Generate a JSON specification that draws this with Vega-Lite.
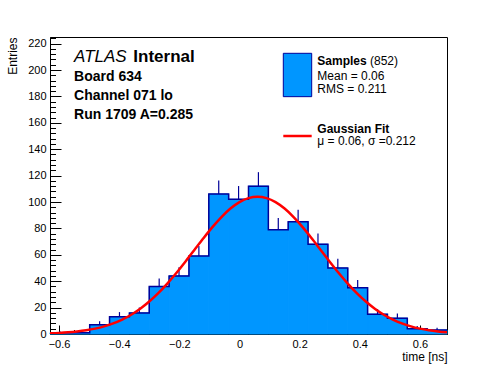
{
  "$schema": "https://vega.github.io/schema/vega-lite/v6.json",
  "width": 397,
  "height": 297,
  "autosize": {"type": "none"},
  "padding": {"left": 50, "top": 37, "right": 49, "bottom": 38},
  "background": "white",
  "config": {
    "view": {"stroke": "black", "strokeWidth": 1},
    "font": "Liberation Sans",
    "axis": {"labelFont": "Liberation Sans", "titleFont": "Liberation Sans", "labelColor": "black", "titleColor": "black", "domainColor": "black", "tickColor": "black", "grid": false, "zindex": 1}
  },
  "datasets": {
    "hist": [
      {"lo": -0.630, "hi": -0.564, "t": -0.597, "n": 1, "up": 2.0},
      {"lo": -0.564, "hi": -0.498, "t": -0.531, "n": 1, "up": 2.0},
      {"lo": -0.498, "hi": -0.432, "t": -0.465, "n": 7, "up": 9.65},
      {"lo": -0.432, "hi": -0.366, "t": -0.399, "n": 13, "up": 16.6},
      {"lo": -0.366, "hi": -0.300, "t": -0.333, "n": 16, "up": 20.0},
      {"lo": -0.300, "hi": -0.234, "t": -0.267, "n": 36, "up": 42.0},
      {"lo": -0.234, "hi": -0.168, "t": -0.201, "n": 44, "up": 50.6},
      {"lo": -0.168, "hi": -0.102, "t": -0.135, "n": 59, "up": 66.7},
      {"lo": -0.102, "hi": -0.036, "t": -0.069, "n": 106, "up": 116.3},
      {"lo": -0.036, "hi": 0.030, "t": -0.003, "n": 102, "up": 112.1},
      {"lo": 0.030, "hi": 0.096, "t": 0.063, "n": 112, "up": 122.6},
      {"lo": 0.096, "hi": 0.162, "t": 0.129, "n": 79, "up": 87.9},
      {"lo": 0.162, "hi": 0.228, "t": 0.195, "n": 85, "up": 94.2},
      {"lo": 0.228, "hi": 0.294, "t": 0.261, "n": 68, "up": 76.2},
      {"lo": 0.294, "hi": 0.360, "t": 0.327, "n": 50, "up": 57.1},
      {"lo": 0.360, "hi": 0.426, "t": 0.393, "n": 35, "up": 40.9},
      {"lo": 0.426, "hi": 0.492, "t": 0.459, "n": 15, "up": 18.9},
      {"lo": 0.492, "hi": 0.558, "t": 0.525, "n": 12, "up": 15.5},
      {"lo": 0.558, "hi": 0.624, "t": 0.591, "n": 4, "up": 6.0},
      {"lo": 0.624, "hi": 0.690, "t": 0.657, "n": 3, "up": 4.7}
    ],
    "fit": [
      {"t": -0.63, "f": 0.52}, {"t": -0.60, "f": 0.82}, {"t": -0.57, "f": 1.26}, {"t": -0.54, "f": 1.90},
      {"t": -0.51, "f": 2.80}, {"t": -0.48, "f": 4.06}, {"t": -0.45, "f": 5.76}, {"t": -0.42, "f": 8.01},
      {"t": -0.39, "f": 10.93}, {"t": -0.36, "f": 14.61}, {"t": -0.33, "f": 19.15}, {"t": -0.30, "f": 24.60},
      {"t": -0.27, "f": 30.97}, {"t": -0.24, "f": 38.21}, {"t": -0.21, "f": 46.22}, {"t": -0.18, "f": 54.80},
      {"t": -0.15, "f": 63.68}, {"t": -0.12, "f": 72.52}, {"t": -0.09, "f": 80.97}, {"t": -0.06, "f": 88.60},
      {"t": -0.03, "f": 95.04}, {"t": 0.00, "f": 99.92}, {"t": 0.03, "f": 102.96}, {"t": 0.06, "f": 104.0},
      {"t": 0.09, "f": 102.96}, {"t": 0.12, "f": 99.92}, {"t": 0.15, "f": 95.04}, {"t": 0.18, "f": 88.60},
      {"t": 0.21, "f": 80.97}, {"t": 0.24, "f": 72.52}, {"t": 0.27, "f": 63.68}, {"t": 0.30, "f": 54.80},
      {"t": 0.33, "f": 46.22}, {"t": 0.36, "f": 38.21}, {"t": 0.39, "f": 30.97}, {"t": 0.42, "f": 24.60},
      {"t": 0.45, "f": 19.15}, {"t": 0.48, "f": 14.61}, {"t": 0.51, "f": 10.93}, {"t": 0.54, "f": 8.01},
      {"t": 0.57, "f": 5.76}, {"t": 0.60, "f": 4.06}, {"t": 0.63, "f": 2.80}, {"t": 0.66, "f": 1.90},
      {"t": 0.69, "f": 1.26}
    ],
    "atlas": [{"t": -0.550, "e": 205.8, "label": "ATLAS"}],
    "internal": [{"t": -0.353, "e": 205.8, "label": "Internal"}],
    "info": [
      {"t": -0.550, "e": 191.7, "label": "Board 634"},
      {"t": -0.550, "e": 177.3, "label": "Channel 071 lo"},
      {"t": -0.550, "e": 163.1, "label": "Run 1709 A=0.285"}
    ],
    "legendHead": [
      {"t": 0.2588, "e": 203.8, "label": "Samples"},
      {"t": 0.2588, "e": 152.6, "label": "Gaussian Fit"}
    ],
    "legendBody": [
      {"t": 0.434, "e": 203.8, "label": "(852)"},
      {"t": 0.2588, "e": 192.4, "label": "Mean = 0.06"},
      {"t": 0.2588, "e": 182.3, "label": "RMS = 0.211"},
      {"t": 0.2588, "e": 142.9, "label": "μ = 0.06, σ =0.212"}
    ],
    "legendBox": [{"x1": 0.1457, "x2": 0.2401, "y1": 212.65, "y2": 179.8}],
    "legendLine": [{"x1": 0.1457, "x2": 0.2401, "y": 150.0}]
  },
  "resolve": {"axis": {"x": "independent", "y": "independent"}},
  "layer": [
    {
      "data": {"name": "hist"},
      "mark": {"type": "rect", "fill": "#0096ff", "stroke": "#0096ff", "strokeWidth": 1},
      "encoding": {
        "x": {"field": "lo", "type": "quantitative",
          "scale": {"domain": [-0.63, 0.69], "nice": false, "zero": false},
          "axis": {"orient": "bottom", "values": [-0.6, -0.4, -0.2, 0, 0.2, 0.4, 0.6], "format": ".1~f",
            "tickSize": -9, "labelPadding": 13, "labelFontSize": 11, "domainWidth": 1,
            "title": "time [ns]", "titleFontSize": 12, "titleFontWeight": "normal", "titleAnchor": "end",
            "titleX": 397, "titleY": 26, "titleAlign": "right", "titleBaseline": "alphabetic"}},
        "x2": {"field": "hi"},
        "y": {"field": "n", "type": "quantitative",
          "scale": {"domain": [0, 225], "nice": false},
          "axis": {"orient": "left", "values": [0, 20, 40, 60, 80, 100, 120, 140, 160, 180, 200, 220],
            "tickSize": -11, "labelPadding": 15, "labelFontSize": 11,
            "title": "Entries", "titleFontSize": 12, "titleFontWeight": "normal",
            "titleX": -38, "titleY": 0, "titleAngle": -90, "titleAlign": "right", "titleBaseline": "middle"}},
        "y2": {"datum": 0}
      }
    },
    {
      "data": {"name": "hist"},
      "transform": [{"fold": ["lo", "hi"], "as": ["edge", "x"]}],
      "mark": {"type": "line", "color": "#000099", "strokeWidth": 1.5, "interpolate": "linear"},
      "encoding": {
        "x": {"field": "x", "type": "quantitative",
          "axis": {"orient": "bottom", "values": [-0.6, -0.55, -0.5, -0.45, -0.35, -0.3, -0.25, -0.15, -0.1, -0.05, 0.05, 0.1, 0.15, 0.25, 0.3, 0.35, 0.45, 0.5, 0.55, 0.65],
            "tickSize": -4.5, "labels": false, "domain": false, "title": null}},
        "y": {"field": "n", "type": "quantitative",
          "axis": {"orient": "left", "values": [4, 8, 12, 16, 24, 28, 32, 36, 44, 48, 52, 56, 64, 68, 72, 76, 84, 88, 92, 96, 104, 108, 112, 116, 124, 128, 132, 136, 144, 148, 152, 156, 164, 168, 172, 176, 184, 188, 192, 196, 204, 208, 212, 216, 224],
            "tickSize": -5.5, "labels": false, "domain": false, "title": null}},
        "order": [{"field": "x", "type": "quantitative"}, {"field": "edge", "type": "nominal"}]
      }
    },
    {
      "data": {"name": "hist"},
      "mark": {"type": "rule", "color": "#000099", "strokeWidth": 1.2},
      "encoding": {
        "x": {"field": "t", "type": "quantitative", "axis": null},
        "y": {"field": "n", "type": "quantitative", "axis": null},
        "y2": {"field": "up"}
      }
    },
    {
      "data": {"name": "fit"},
      "mark": {"type": "line", "color": "#ff0000", "strokeWidth": 2.5, "interpolate": "monotone", "clip": true},
      "encoding": {
        "x": {"field": "t", "type": "quantitative", "axis": null},
        "y": {"field": "f", "type": "quantitative", "axis": null}
      }
    },
    {
      "data": {"name": "atlas"},
      "mark": {"type": "text", "font": "Liberation Sans", "fontSize": 17, "fontStyle": "italic", "align": "left", "baseline": "alphabetic", "color": "black"},
      "encoding": {
        "x": {"field": "t", "type": "quantitative", "axis": null},
        "y": {"field": "e", "type": "quantitative", "axis": null},
        "text": {"field": "label"}
      }
    },
    {
      "data": {"name": "internal"},
      "mark": {"type": "text", "font": "Liberation Sans", "fontSize": 17, "fontWeight": "bold", "align": "left", "baseline": "alphabetic", "color": "black"},
      "encoding": {
        "x": {"field": "t", "type": "quantitative", "axis": null},
        "y": {"field": "e", "type": "quantitative", "axis": null},
        "text": {"field": "label"}
      }
    },
    {
      "data": {"name": "info"},
      "mark": {"type": "text", "font": "Liberation Sans", "fontSize": 14, "fontWeight": "bold", "align": "left", "baseline": "alphabetic", "color": "black"},
      "encoding": {
        "x": {"field": "t", "type": "quantitative", "axis": null},
        "y": {"field": "e", "type": "quantitative", "axis": null},
        "text": {"field": "label"}
      }
    },
    {
      "data": {"name": "legendBox"},
      "mark": {"type": "rect", "fill": "#0096ff", "stroke": "#000099", "strokeWidth": 1},
      "encoding": {
        "x": {"field": "x1", "type": "quantitative", "axis": null},
        "x2": {"field": "x2"},
        "y": {"field": "y1", "type": "quantitative", "axis": null},
        "y2": {"field": "y2"}
      }
    },
    {
      "data": {"name": "legendLine"},
      "mark": {"type": "rule", "color": "#ff0000", "strokeWidth": 2.5},
      "encoding": {
        "x": {"field": "x1", "type": "quantitative", "axis": null},
        "x2": {"field": "x2"},
        "y": {"field": "y", "type": "quantitative", "axis": null}
      }
    },
    {
      "data": {"name": "legendHead"},
      "mark": {"type": "text", "font": "Liberation Sans", "fontSize": 12, "fontWeight": "bold", "align": "left", "baseline": "alphabetic", "color": "black"},
      "encoding": {
        "x": {"field": "t", "type": "quantitative", "axis": null},
        "y": {"field": "e", "type": "quantitative", "axis": null},
        "text": {"field": "label"}
      }
    },
    {
      "data": {"name": "legendBody"},
      "mark": {"type": "text", "font": "Liberation Sans", "fontSize": 12, "align": "left", "baseline": "alphabetic", "color": "black"},
      "encoding": {
        "x": {"field": "t", "type": "quantitative", "axis": null},
        "y": {"field": "e", "type": "quantitative", "axis": null},
        "text": {"field": "label"}
      }
    }
  ]
}
